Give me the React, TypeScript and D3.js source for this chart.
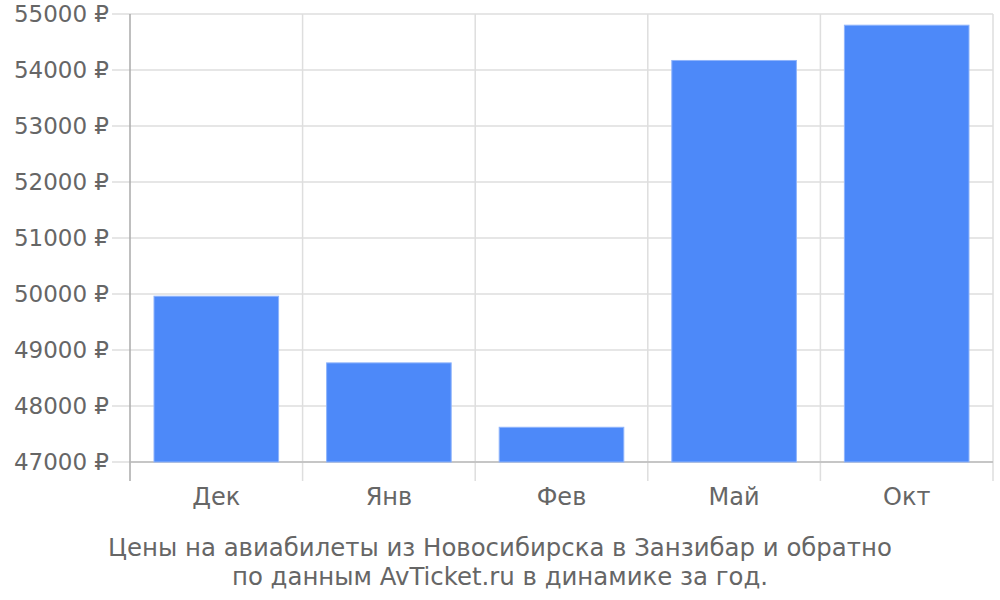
import React, { useEffect, useRef } from 'react';
import * as d3 from 'd3';

const months = ['Дек', 'Янв', 'Фев', 'Май', 'Окт'];
const prices = [49960, 48770, 47620, 54170, 54800];
const yTicks = [47000, 48000, 49000, 50000, 51000, 52000, 53000, 54000, 55000];
const titleLines = [
  'Цены на авиабилеты из Новосибирска в Занзибар и обратно',
  'по данным AvTicket.ru в динамике за год.',
];

export default function App() {
  const ref = useRef<SVGSVGElement>(null);

  useEffect(() => {
    const svg = d3.select(ref.current);
    svg.selectAll('*').remove();

    const left = 130, right = 993, top = 14, bottom = 462;
    const font = 'DejaVu Sans, sans-serif';
    const textColor = '#666';

    const x = d3.scaleBand().domain(months).range([left, right]).paddingInner(0).paddingOuter(0);
    const y = d3.scaleLinear().domain([47000, 55000]).range([bottom, top]);

    // horizontal grid + ticks
    svg.append('g')
      .selectAll('line')
      .data(yTicks)
      .join('line')
      .attr('x1', left - 18)
      .attr('x2', right)
      .attr('y1', d => y(d))
      .attr('y2', d => y(d))
      .attr('stroke', '#dedede')
      .attr('stroke-width', 1.5);

    // vertical grid at band edges
    const edges = months.map(m => x(m)!).concat([right]);
    svg.append('g')
      .selectAll('line')
      .data(edges)
      .join('line')
      .attr('x1', d => d)
      .attr('x2', d => d)
      .attr('y1', top)
      .attr('y2', bottom + 19)
      .attr('stroke', (d, i) => (i === 0 ? '#aaa' : '#dedede'))
      .attr('stroke-width', 1.5);

    // bottom axis line
    svg.append('line')
      .attr('x1', left).attr('x2', right)
      .attr('y1', bottom).attr('y2', bottom)
      .attr('stroke', '#bbb').attr('stroke-width', 1.5);

    // bars
    const pad = 24;
    svg.append('g')
      .selectAll('rect')
      .data(prices)
      .join('rect')
      .attr('x', (d, i) => x(months[i])! + pad)
      .attr('width', x.bandwidth() - pad * 2)
      .attr('y', d => y(d))
      .attr('height', d => bottom - y(d))
      .attr('fill', '#4d89f9')
      .attr('stroke', '#8fb4fb')
      .attr('stroke-width', 1);

    // y labels
    svg.append('g')
      .selectAll('text')
      .data(yTicks)
      .join('text')
      .attr('x', 109)
      .attr('y', d => y(d))
      .attr('dy', '0.36em')
      .attr('text-anchor', 'end')
      .attr('font-family', font)
      .attr('font-size', 23)
      .attr('fill', textColor)
      .text(d => `${d} ₽`);

    // x labels
    svg.append('g')
      .selectAll('text')
      .data(months)
      .join('text')
      .attr('x', d => x(d)! + x.bandwidth() / 2)
      .attr('y', 505)
      .attr('text-anchor', 'middle')
      .attr('font-family', font)
      .attr('font-size', 24)
      .attr('fill', textColor)
      .text(d => d);

    // title
    svg.append('g')
      .selectAll('text')
      .data(titleLines)
      .join('text')
      .attr('x', 500)
      .attr('y', (d, i) => 556 + i * 29)
      .attr('text-anchor', 'middle')
      .attr('font-family', font)
      .attr('font-size', 24.4)
      .attr('fill', textColor)
      .text(d => d);
  }, []);

  return (
    <svg
      ref={ref}
      width={1000}
      height={600}
      style={{ position: 'absolute', left: 0, top: 0, background: '#fff' }}
    />
  );
}
